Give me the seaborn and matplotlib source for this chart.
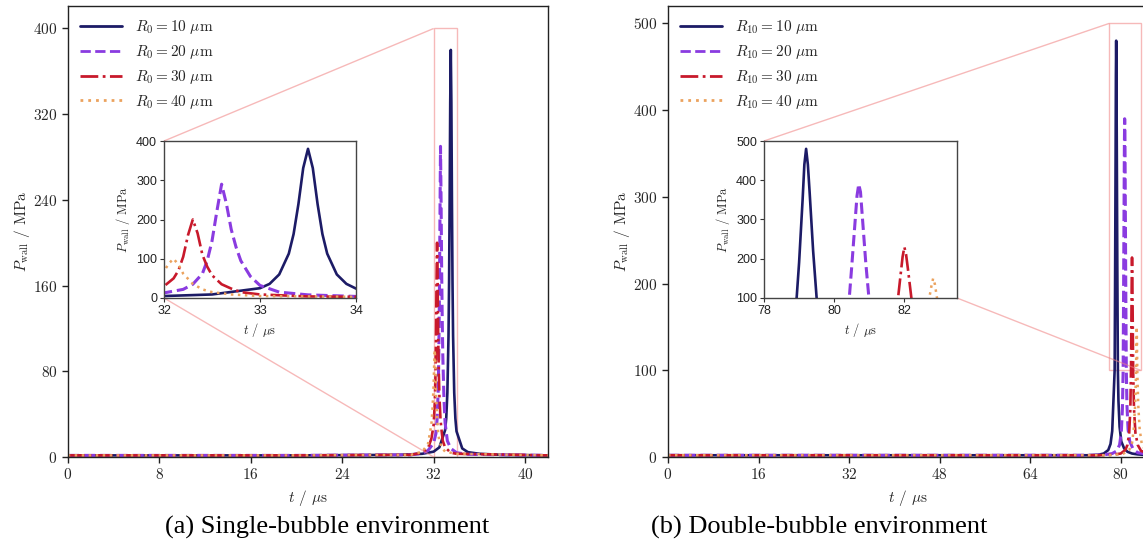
import matplotlib
matplotlib.use("Agg")
import matplotlib.pyplot as plt
import seaborn as sns
import pandas as pd
from mpl_toolkits.axes_grid1.inset_locator import mark_inset

# ---------------- data ----------------
# (a) single-bubble environment
t_a10 = [0, 20, 29, 31, 32, 32.5, 33.0, 33.1, 33.2, 33.3, 33.35, 33.4, 33.45, 33.5, 33.55, 33.6, 33.65, 33.7, 33.8, 33.9, 34.0, 34.5, 35.0, 36.0, 38.0, 42.0]
p_a10 = [1.5, 1.5, 2, 3, 5, 9, 25, 36, 60, 113, 163, 239, 331, 380, 331, 239, 163, 113, 60, 36, 24, 8, 4.5, 3, 2, 1.5]

t_a20 = [0, 20, 30, 31, 31.5, 32.0, 32.2, 32.3, 32.4, 32.45, 32.5, 32.55, 32.6, 32.65, 32.7, 32.75, 32.8, 32.9, 33.0, 33.2, 33.5, 34.0, 35.0, 42.0]
p_a20 = [1.5, 1.5, 2, 3.5, 6, 13, 22, 35, 62, 95, 145, 220, 290, 240, 175, 130, 95, 55, 32, 15, 8, 4, 2.5, 1.5]

t_a30 = [0, 20, 30, 31, 31.5, 31.8, 32.0, 32.1, 32.15, 32.2, 32.25, 32.3, 32.35, 32.4, 32.45, 32.5, 32.6, 32.7, 32.8, 33.0, 33.5, 34.0, 42.0]
p_a30 = [1.5, 1.5, 2, 4, 8, 17, 30, 50, 70, 105, 160, 200, 165, 110, 80, 58, 35, 24, 15, 9, 4, 3, 1.5]

t_a40 = [0, 20, 30, 31, 31.5, 31.8, 31.9, 32.0, 32.05, 32.1, 32.15, 32.2, 32.3, 32.4, 32.5, 32.7, 33.0, 34.0, 42.0]
p_a40 = [1.5, 1.5, 2, 5, 12, 30, 45, 68, 88, 100, 85, 62, 36, 22, 15, 9, 5, 3, 1.5]

# (b) double-bubble environment
t_b10 = [0, 40, 74, 76, 77, 77.8, 78.2, 78.5, 78.93, 79.0, 79.1, 79.15, 79.2, 79.25, 79.3, 79.4, 79.5, 79.6, 79.8, 80.1, 80.6, 81.2, 82.0, 83.0, 85.0]
p_b10 = [2, 2, 2, 2.5, 4, 8, 15, 30, 100, 190, 350, 440, 480, 440, 370, 220, 100, 65, 35, 18, 10, 6, 4, 3, 2]

t_b20 = [0, 40, 75, 77, 78.5, 79.3, 79.8, 80.1, 80.3, 80.43, 80.5, 80.6, 80.65, 80.7, 80.75, 80.8, 80.9, 80.99, 81.1, 81.3, 81.6, 82.2, 83.0, 85.0]
p_b20 = [2, 2, 2, 2.5, 4, 7, 14, 28, 55, 100, 180, 300, 360, 390, 370, 310, 190, 100, 60, 32, 18, 9, 5, 3]

t_b30 = [0, 40, 76, 78.5, 80.0, 80.8, 81.2, 81.5, 81.7, 81.82, 81.9, 81.95, 82.0, 82.05, 82.1, 82.2, 82.35, 82.6, 83.0, 83.6, 85.0]
p_b30 = [2, 2, 2, 2.5, 4, 8, 14, 28, 55, 100, 165, 205, 230, 210, 175, 100, 55, 28, 14, 7, 4]

t_b40 = [0, 40, 77, 79, 80.5, 81.5, 82.0, 82.3, 82.55, 82.71, 82.77, 82.82, 82.87, 82.93, 83.1, 83.35, 83.7, 84.2, 85.0]
p_b40 = [2, 2, 2, 2.5, 4, 8, 16, 32, 60, 100, 130, 150, 135, 100, 60, 32, 16, 9, 6]

radii = [10, 20, 30, 40]
labels_a = [r"$R_0 = %d\ \mu\mathrm{m}$" % r for r in radii]
labels_b = [r"$R_{10} = %d\ \mu\mathrm{m}$" % r for r in radii]

xticks_a = [0, 8, 16, 24, 32, 40]
yticks_a = [0, 80, 160, 240, 320, 400]
xticks_b = [0, 16, 32, 48, 64, 80]
yticks_b = [0, 100, 200, 300, 400, 500]
ins_xticks_a = [32, 33, 34]
ins_yticks_a = [0, 100, 200, 300, 400]
ins_xticks_b = [78, 80, 82]
ins_yticks_b = [100, 200, 300, 400, 500]

captions = ["(a) Single-bubble environment", "(b) Double-bubble environment"]

# ---------------- styles ----------------
colors = ["#1c1b66", "#8a3be0", "#c8192b", "#eba25e"]
styles = ["-", (0, (3.7, 1.6)), (0, (6.4, 1.6, 1, 1.6)), (0, (1, 1.8))]
widths = [1.9, 2.2, 1.9, 1.8]

sns.set_theme(style="ticks")
plt.rcParams.update({
    "mathtext.fontset": "cm",
    "font.family": ["cmr10", "DejaVu Serif"],
    "axes.formatter.use_mathtext": True,
    "axes.unicode_minus": False,
    "xtick.direction": "out",
    "ytick.direction": "out",
    "axes.edgecolor": "#222222",
    "axes.linewidth": 1.0,
})

W, H = 1143, 550
fig = plt.figure(figsize=(W / 100, H / 100), dpi=100)
fig.patch.set_facecolor("white")


def px(x0, y0, x1, y1):
    return [x0 / W, 1 - y1 / H, (x1 - x0) / W, (y1 - y0) / H]


ax_a = fig.add_axes(px(67.7, 6, 548, 457))
ax_b = fig.add_axes(px(668, 6, 1149, 457))
ins_a = fig.add_axes(px(164, 141, 356, 298))
ins_b = fig.add_axes(px(764, 141, 957, 298))

data_a = [(t_a10, p_a10), (t_a20, p_a20), (t_a30, p_a30), (t_a40, p_a40)]
data_b = [(t_b10, p_b10), (t_b20, p_b20), (t_b30, p_b30), (t_b40, p_b40)]


def draw(ax, data, labels):
    for (t, p), lab, c, ls, lw in zip(data, labels, colors, styles, widths):
        df = pd.DataFrame({"t": t, "p": p})
        sns.lineplot(data=df, x="t", y="p", ax=ax, color=c, linestyle=ls,
                     linewidth=lw, label=lab, sort=False, estimator=None)


for ax, ins, data, labels, xt, yt, ixt, iyt, xlim, ylim, ixlim, iylim, loc2 in [
    (ax_a, ins_a, data_a, labels_a, xticks_a, yticks_a, ins_xticks_a, ins_yticks_a,
     (0, 42), (0, 421), (32, 34), (0, 400), 3),
    (ax_b, ins_b, data_b, labels_b, xticks_b, yticks_b, ins_xticks_b, ins_yticks_b,
     (0, 85), (0, 520), (78, 83.5), (100, 500), 4),
]:
    draw(ax, data, labels)
    ax.set_xlim(*xlim)
    ax.set_ylim(*ylim)
    ax.set_xticks(xt)
    ax.set_yticks(yt)
    ax.tick_params(labelsize=11, length=4, width=1, color="#222222")
    ax.set_xlabel(r"$t$ / $\mu$s", fontsize=11, labelpad=4)
    ax.set_ylabel(r"$P_{\mathrm{wall}}$ / MPa", fontsize=11, labelpad=1)
    leg = ax.legend(loc="upper left", frameon=False, fontsize=11,
                    handlelength=2.75, handletextpad=0.85, labelspacing=0.45,
                    borderaxespad=0.4, bbox_to_anchor=(0.0, 1.0))
    for line in leg.get_lines():
        line.set_linewidth(2.0)

    draw(ins, data, [None] * 4)
    if ins.get_legend() is not None:
        ins.get_legend().remove()
    ins.set_facecolor("white")
    ins.set_xlim(*ixlim)
    ins.set_ylim(*iylim)
    ins.set_xticks(ixt, labels=[str(v) for v in ixt], fontfamily="Liberation Sans", fontsize=9)
    ins.set_yticks(iyt, labels=[str(v) for v in iyt], fontfamily="Liberation Sans", fontsize=9)
    ins.tick_params(length=3, width=0.8, color="#333333", labelcolor="#222222", pad=2)
    for s in ins.spines.values():
        s.set_color("#444444")
        s.set_linewidth(1.0)
    ins.set_xlabel(r"$t$ / $\mu$s", fontsize=9, labelpad=3)
    ins.set_ylabel(r"$P_{\mathrm{wall}}$ / MPa", fontsize=9, labelpad=3)
    mark_inset(ax, ins, loc1=2, loc2=loc2, fc="none", ec="lightcoral", lw=1.0, alpha=0.55)

fig.text(327 / W, 1 - 527 / H, captions[0], ha="center", va="center",
         fontsize=19, family="Liberation Serif", color="black")
fig.text(819 / W, 1 - 527 / H, captions[1], ha="center", va="center",
         fontsize=19, family="Liberation Serif", color="black")

fig.savefig("out.png", dpi=100, facecolor="white")
